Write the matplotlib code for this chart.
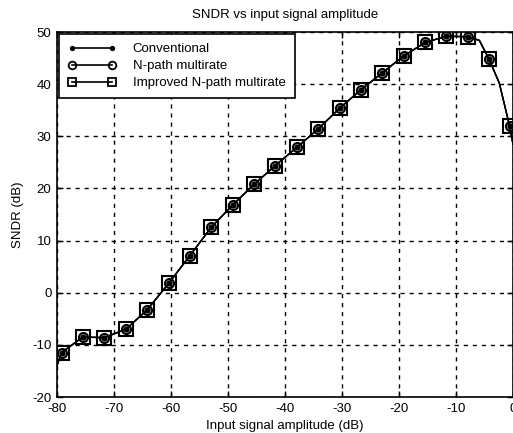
import numpy as np
import matplotlib
matplotlib.use('Agg')
import matplotlib.pyplot as plt

plt.rcParams['font.family'] = ['Liberation Sans', 'DejaVu Sans']
plt.rcParams['axes.unicode_minus'] = False

# marker positions (input amplitude in dB, SNDR in dB)
amp_marks = [-79.2, -75.5, -71.7, -67.9, -64.2, -60.4, -56.7, -52.9, -49.2, -45.4, -41.7,
             -37.9, -34.2, -30.4, -26.7, -22.9, -19.2, -15.4, -11.7, -7.9, -4.2, -0.6]
sndr_marks = [-11.5, -8.5, -8.6, -7.0, -3.3, 1.8, 7.1, 12.6, 16.8, 20.8, 24.4,
              27.9, 31.4, 35.4, 38.9, 42.2, 45.4, 48.0, 49.2, 49.1, 44.8, 32.0]

# continuous curve (markers plus a few read points at the ends / bend)
amp_curve = [-80.0] + amp_marks[:20] + [-5.9, -4.2, -2.4, -0.6, 0.0]
sndr_curve = [-14.0] + sndr_marks[:20] + [48.4, 44.8, 40.2, 32.0, 28.5]

series = ['Conventional', 'N-path multirate', 'Improved N-path multirate']
markers = ['.', 'o', 's']
plot_ms = [6, 6.5, 9.5]
legend_ms = [5, 5.5, 6]
filled = [True, False, False]

fig = plt.figure(figsize=(5.13, 4.33), dpi=100)
ax = fig.add_axes([0.111, 0.083, 0.889, 0.843])

for name, mk, pms, lms, fl in zip(series, markers, plot_ms, legend_ms, filled):
    mfc = 'k' if fl else 'none'
    ax.plot(amp_curve, sndr_curve, color='k', lw=1.0)
    ax.plot(amp_marks, sndr_marks, color='k', lw=0, marker=mk, ms=pms, mfc=mfc, mew=1.5)
    # legend proxy: MATLAB-style line with marker at both ends
    ax.plot([], [], color='k', lw=1.2, label=name, marker=mk, ms=lms, mfc=mfc, mew=1.3)

ax.set_xlim(-80, 0)
ax.set_ylim(-20, 50)
ax.set_xticks(np.arange(-80, 1, 10))
ax.set_yticks(np.arange(-20, 51, 10))
ax.tick_params(direction='in', labelsize=9.5, length=4, width=1, top=True, right=True, pad=4)
for sp in ax.spines.values():
    sp.set_linewidth(1.2)
ax.grid(True, color='k', linestyle=(0, (3, 3.5)), linewidth=1.0)

ax.set_title('SNDR vs input signal amplitude', fontsize=9.5, pad=10)
ax.set_xlabel('Input signal amplitude (dB)', fontsize=9.5, labelpad=4)
ax.set_ylabel('SNDR (dB)', fontsize=9.5, labelpad=6)

leg = ax.legend(loc='upper left', numpoints=2, fontsize=9.5, handlelength=3.6,
                fancybox=False, framealpha=1, edgecolor='k',
                borderaxespad=0.15, borderpad=0.7, labelspacing=0.35, handletextpad=1.3)
leg.get_frame().set_linewidth(1.2)

fig.savefig('out.png', dpi=100)
